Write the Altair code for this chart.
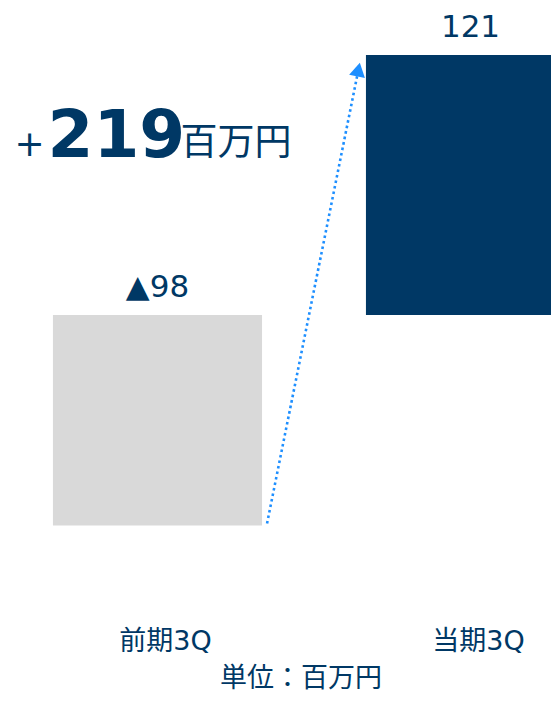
import altair as alt
import pandas as pd

# ---- data ----
categories = ["前期3Q", "当期3Q"]
values = [-98, 121]
unit_label = "単位：百万円"
unit = "百万円"

NAVY = "#003865"
GRAY = "#d9d9d9"
BLUE = "#1e8fff"
FONT = "DejaVu Sans, Noto Sans CJK JP"
HW = 0.334  # half bar width (category units)

W, H = 543, 686

df = pd.DataFrame({"cat": categories, "idx": list(range(len(categories))), "value": values})

diff = values[1] - values[0]
head_df = pd.DataFrame({"sign": ["+" if diff >= 0 else "▲"], "num": [str(abs(diff))],
                        "unit": [unit], "unit_label": [unit_label]})

arrow_df = pd.DataFrame({
    "x_from": [0 + HW + 0.016], "y_from": [values[0] + 1],
    "x_to": [1 - HW - 0.024], "y_to": [values[1] - 6.8],
})

xscale = alt.Scale(domain=[-0.4776, -0.4776 + W / 313], nice=False, zero=False)
yscale = alt.Scale(domain=[142.87 - H / 2.1488, 142.87], nice=False, zero=False)

base = alt.Chart(df)

bars = base.transform_calculate(
    x0=f"datum.idx - {HW}", x1=f"datum.idx + {HW}", zero="0"
).mark_bar().encode(
    x=alt.X("x0:Q", scale=xscale, axis=None),
    x2="x1:Q",
    y=alt.Y("value:Q", scale=yscale, axis=None),
    y2="zero:Q",
    color=alt.Color("cat:N", scale=alt.Scale(domain=categories, range=[GRAY, NAVY]), legend=None),
)

labels = base.transform_calculate(
    top="max(datum.value, 0)",
    lab="datum.value < 0 ? '▲' + abs(datum.value) : '' + datum.value",
).mark_text(
    baseline="alphabetic", align="center", dy=-18, fontSize=31, font=FONT, color=NAVY
).encode(
    x=alt.X("idx:Q", axis=None),
    y=alt.Y("top:Q", axis=None),
    text="lab:N",
)

cat_labels = base.mark_text(
    baseline="alphabetic", align="center", dx=8, fontSize=27, font=FONT, color=NAVY
).encode(
    x=alt.X("idx:Q", axis=None),
    y=alt.value(642),
    text="cat:N",
)

arrow_line = alt.Chart(arrow_df).mark_rule(
    color=BLUE, strokeWidth=2.6, strokeDash=[2.6, 3]
).encode(
    x=alt.X("x_from:Q", axis=None), x2="x_to:Q",
    y=alt.Y("y_from:Q", axis=None), y2="y_to:Q",
)

arrow_head = alt.Chart(arrow_df).mark_point(
    shape="triangle-up", filled=True, size=260, angle=11.6, color=BLUE, opacity=1, strokeWidth=0
).encode(
    x=alt.X("x_to:Q", axis=None),
    y=alt.Y("y_to:Q", axis=None),
)

head_sign = alt.Chart(head_df).mark_text(
    align="left", baseline="alphabetic", fontSize=36, font=FONT, color=NAVY
).encode(text="sign:N", x=alt.value(6.5), y=alt.value(148))

head_num = alt.Chart(head_df).mark_text(
    align="left", baseline="alphabetic", fontSize=66, fontWeight="bold", font=FONT, color=NAVY
).encode(text="num:N", x=alt.value(39.5), y=alt.value(149))

head_unit = alt.Chart(head_df).mark_text(
    align="left", baseline="alphabetic", fontSize=37, font=FONT, color=NAVY
).encode(text="unit:N", x=alt.value(172.5), y=alt.value(147))

unit_text = alt.Chart(head_df).mark_text(
    align="center", baseline="alphabetic", fontSize=27, font=FONT, color=NAVY
).encode(text="unit_label:N", x=alt.value(293), y=alt.value(679))

chart = alt.layer(
    bars, arrow_line, arrow_head, labels, cat_labels, head_sign, head_num, head_unit, unit_text
).properties(
    width=W, height=H,
    autosize=alt.AutoSizeParams(type="none"),
    padding=0,
).configure_view(stroke=None)

chart.save("out.html", embed_options={"renderer": "svg", "actions": False})
